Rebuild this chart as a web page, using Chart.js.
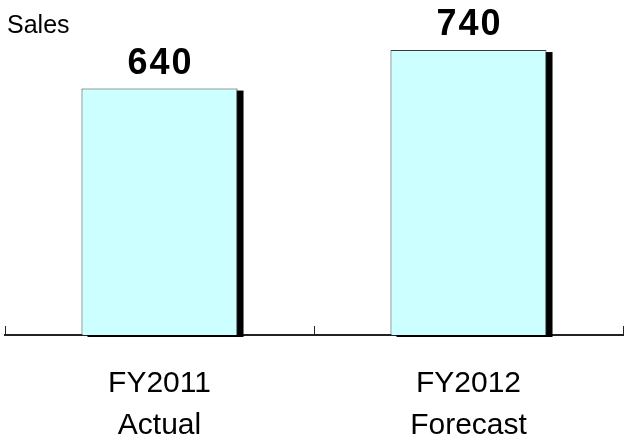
<!DOCTYPE html>
<html>
<head>
<meta charset="utf-8">
<script src="https://cdn.jsdelivr.net/npm/chart.js@4.4.1/dist/chart.umd.min.js"></script>
<style>
  html, body { margin: 0; padding: 0; background: #ffffff; }
  #wrap { width: 625px; height: 447px; position: relative; }
</style>
</head>
<body>
<div id="wrap"><canvas id="chart" width="625" height="447"></canvas></div>
<script>
// Sales by fiscal year
const categories = [['FY2011', 'Actual'], ['FY2012', 'Forecast']];
const sales = [640, 740];
const axisTitle = 'Sales';

const FONT = "'Liberation Sans', Arial, sans-serif";

// Solid drop shadow behind each bar
const barShadow = {
  id: 'barShadow',
  beforeDatasetsDraw(chart) {
    const ctx = chart.ctx;
    const meta = chart.getDatasetMeta(0);
    ctx.save();
    ctx.fillStyle = '#000000';
    meta.data.forEach(bar => {
      const p = bar.getProps(['x', 'y', 'base', 'width'], true);
      ctx.fillRect(p.x - p.width / 2 + 6, p.y + 2, p.width, p.base - p.y);
    });
    ctx.restore();
  }
};

// Value labels above the bars, short upward tick marks on the axis, and the "Sales" caption
const annotations = {
  id: 'annotations',
  afterDatasetsDraw(chart) {
    const ctx = chart.ctx;
    const meta = chart.getDatasetMeta(0);
    const xs = chart.scales.x;
    const area = chart.chartArea;
    ctx.save();

    ctx.strokeStyle = '#222222';
    ctx.lineWidth = 1;
    for (let i = 0; i <= categories.length; i++) {
      const px = Math.round(xs.getPixelForValue(i - 0.5)) + 0.5;
      ctx.beginPath();
      ctx.moveTo(px, area.bottom);
      ctx.lineTo(px, area.bottom - 9);
      ctx.stroke();
    }

    ctx.fillStyle = '#000000';
    ctx.font = 'bold 36px ' + FONT;
    ctx.textAlign = 'center';
    ctx.textBaseline = 'alphabetic';
    if ('letterSpacing' in ctx) ctx.letterSpacing = '2px';
    meta.data.forEach((bar, i) => {
      ctx.fillText(String(sales[i]), bar.x + 1, bar.y - 15);
    });
    if ('letterSpacing' in ctx) ctx.letterSpacing = '0px';

    ctx.font = '25px ' + FONT;
    ctx.textAlign = 'left';
    ctx.fillText(axisTitle, 7, 33);
    ctx.restore();
  }
};

new Chart(document.getElementById('chart'), {
  type: 'bar',
  data: {
    labels: categories,
    datasets: [{
      data: sales,
      backgroundColor: '#CCFFFF',
      borderColor: '#3a3a3a',
      borderWidth: 1,
      barPercentage: 1.0,
      categoryPercentage: 0.505
    }]
  },
  options: {
    responsive: false,
    animation: false,
    devicePixelRatio: 1,
    layout: { padding: { left: 5, right: 2, top: 0, bottom: 0 } },
    plugins: {
      legend: { display: false },
      tooltip: { enabled: false }
    },
    scales: {
      x: {
        position: 'bottom',
        offset: true,
        grid: { display: false, drawTicks: false },
        border: { display: true, color: '#222222', width: 2 },
        ticks: {
          color: '#000000',
          padding: 28,
          font: { family: FONT, size: 30, lineHeight: 1.4 },
          maxRotation: 0,
          autoSkip: false
        },
        afterFit(scale) { scale.height = 112; }
      },
      y: {
        display: false,
        min: 0,
        max: 870
      }
    }
  },
  plugins: [barShadow, annotations]
});
</script>
</body>
</html>
